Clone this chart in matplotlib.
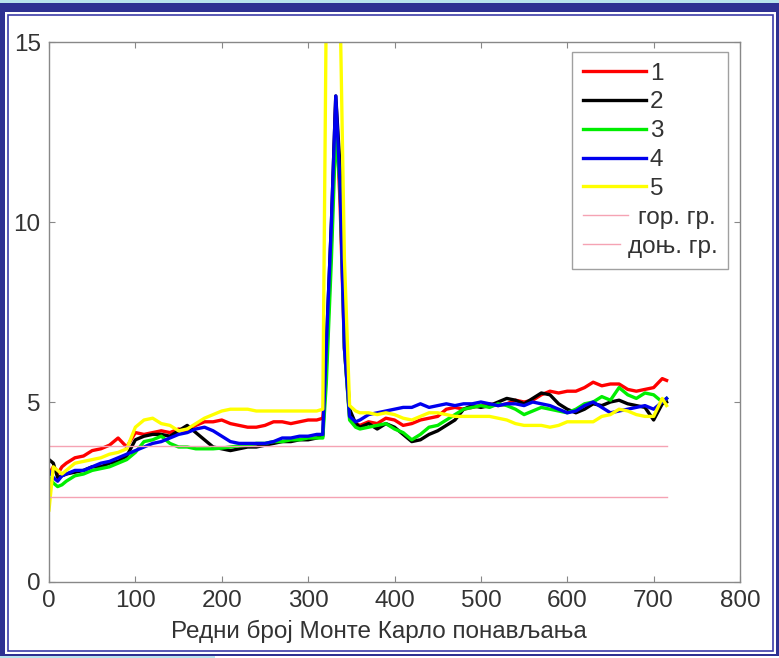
"""
Monte Carlo repetitions chart: five runs with upper/lower bounds.

Usage:
    python plot.py
"""

import matplotlib.pyplot as plt
from matplotlib.patches import Rectangle
from matplotlib.legend_handler import HandlerLine2D

# ---------------------------------------------------------------------------
# Data
# ---------------------------------------------------------------------------

x_vals = [0, 5, 10, 15, 20, 30, 40, 50, 60, 70, 80, 90, 100, 110, 120, 130,
          140, 150, 160, 170, 180, 190, 200, 210, 220, 230, 240, 250, 260,
          270, 280, 290, 300, 310, 317, 321, 327, 332, 337, 342, 348, 355,
          360, 370, 380, 390, 400, 410, 420, 430, 440, 450, 460, 470, 480,
          490, 500, 510, 520, 530, 540, 550, 560, 570, 580, 590, 600, 610,
          620, 630, 640, 650, 660, 670, 680, 690, 700, 710, 715]

run1 = [3.0, 3.2, 3.0, 3.2, 3.3, 3.45, 3.5, 3.65, 3.7, 3.8, 4.0, 3.75, 4.15,
        4.1, 4.15, 4.2, 4.15, 4.25, 4.2, 4.35, 4.45, 4.45, 4.5, 4.4, 4.35,
        4.3, 4.3, 4.35, 4.45, 4.45, 4.4, 4.45, 4.5, 4.5, 4.55, 6.0, 9.5,
        13.3, 10.5, 6.5, 4.6, 4.4, 4.35, 4.45, 4.4, 4.55, 4.5, 4.35, 4.4,
        4.5, 4.55, 4.6, 4.8, 4.85, 4.8, 4.85, 4.9, 4.95, 4.9, 4.95, 5.05,
        5.0, 5.05, 5.2, 5.3, 5.25, 5.3, 5.3, 5.4, 5.55, 5.45, 5.5, 5.5,
        5.35, 5.3, 5.35, 5.4, 5.65, 5.6]

run2 = [3.4, 3.3, 2.9, 2.95, 3.0, 3.05, 3.1, 3.2, 3.2, 3.3, 3.35, 3.5, 3.95,
        4.05, 4.1, 4.1, 4.05, 4.2, 4.35, 4.15, 3.95, 3.75, 3.7, 3.65, 3.7,
        3.75, 3.75, 3.8, 3.85, 3.9, 3.9, 3.95, 3.95, 4.0, 4.05, 6.5, 10.0,
        13.5, 11.5, 7.0, 4.8, 4.4, 4.3, 4.4, 4.25, 4.4, 4.3, 4.1, 3.9, 3.95,
        4.1, 4.2, 4.35, 4.5, 4.8, 4.9, 4.85, 4.9, 5.0, 5.1, 5.05, 4.95, 5.1,
        5.25, 5.2, 4.95, 4.8, 4.7, 4.8, 4.95, 4.9, 5.0, 5.05, 4.95, 4.9,
        4.85, 4.5, 4.95, 5.0]

run3 = [2.9, 2.75, 2.65, 2.7, 2.8, 2.95, 3.0, 3.1, 3.15, 3.2, 3.3, 3.4, 3.6,
        3.9, 3.95, 4.05, 3.85, 3.75, 3.75, 3.7, 3.7, 3.7, 3.72, 3.75, 3.78,
        3.8, 3.85, 3.85, 3.9, 3.9, 3.95, 3.95, 4.0, 4.0, 4.0, 5.5, 9.0,
        12.5, 11.0, 6.5, 4.5, 4.3, 4.25, 4.3, 4.35, 4.4, 4.25, 4.15, 3.95,
        4.1, 4.3, 4.35, 4.5, 4.65, 4.8, 4.85, 4.9, 4.85, 4.95, 4.9, 4.8,
        4.65, 4.75, 4.85, 4.8, 4.75, 4.7, 4.8, 4.95, 5.0, 5.15, 5.05, 5.4,
        5.2, 5.1, 5.25, 5.2, 5.0, 5.1]

run4 = [3.1, 2.9, 2.8, 2.95, 3.0, 3.1, 3.1, 3.2, 3.3, 3.35, 3.45, 3.55, 3.65,
        3.75, 3.85, 3.9, 4.0, 4.1, 4.15, 4.25, 4.3, 4.2, 4.05, 3.9, 3.85,
        3.85, 3.85, 3.85, 3.9, 4.0, 4.0, 4.05, 4.05, 4.1, 4.1, 6.5, 10.0,
        13.5, 11.0, 6.5, 4.6, 4.45, 4.5, 4.65, 4.7, 4.75, 4.8, 4.85, 4.85,
        4.95, 4.85, 4.9, 4.95, 4.9, 4.95, 4.95, 5.0, 4.95, 4.9, 4.95, 4.95,
        4.9, 5.0, 4.95, 4.9, 4.8, 4.7, 4.75, 4.9, 5.0, 4.85, 4.7, 4.75, 4.8,
        4.85, 4.9, 4.8, 5.0, 5.1]

run5 = [2.0, 3.2, 3.1, 3.0, 3.1, 3.3, 3.35, 3.4, 3.45, 3.55, 3.6, 3.7, 4.3,
        4.5, 4.55, 4.4, 4.35, 4.2, 4.25, 4.4, 4.55, 4.65, 4.75, 4.8, 4.8,
        4.8, 4.75, 4.75, 4.75, 4.75, 4.75, 4.75, 4.75, 4.75, 4.8, 16.0,
        16.0, 16.0, 16.0, 9.0, 4.9, 4.75, 4.7, 4.7, 4.65, 4.7, 4.65, 4.55,
        4.5, 4.6, 4.7, 4.7, 4.65, 4.6, 4.6, 4.6, 4.6, 4.6, 4.55, 4.5, 4.4,
        4.35, 4.35, 4.35, 4.3, 4.35, 4.45, 4.45, 4.45, 4.45, 4.6, 4.65, 4.8,
        4.75, 4.65, 4.6, 4.6, 5.1, 4.9]

runs = [run1, run2, run3, run4, run5]
run_labels = ["1", "2", "3", "4", "5"]
run_colors = ["#ff0000", "#000000", "#00ee00", "#0000ee", "#ffff00"]

bound_x = [0, 715]
upper_bound = 3.78
lower_bound = 2.36

x_ticks = [0, 100, 200, 300, 400, 500, 600, 700, 800]
y_ticks = [0, 5, 10, 15]

W, H = 779, 658
FS = 17.5


class ShortLine(HandlerLine2D):
    """Legend line drawn over only part of the handle box."""

    def __init__(self, frac, **kw):
        super().__init__(**kw)
        self.frac = frac

    def create_artists(self, legend, orig_handle, xdescent, ydescent,
                       width, height, fontsize, trans):
        return super().create_artists(legend, orig_handle, xdescent,
                                      ydescent, width * self.frac, height,
                                      fontsize, trans)


def px_rect(fig, x0, y0, x1, y1, **kw):
    """Rectangle given in image pixels (top-left origin), behind the axes."""
    r = Rectangle((x0 / W, 1 - y1 / H), (x1 - x0) / W, (y1 - y0) / H,
                  transform=fig.transFigure, zorder=-10, **kw)
    fig.patches.append(r)


def main():
    plt.rcParams["font.family"] = ["Liberation Sans", "DejaVu Sans"]

    fig = plt.figure(figsize=(W / 100, H / 100), dpi=100, facecolor="white")

    # page frame
    px_rect(fig, 0, 0, W, 2.5, facecolor="#b8e4ec", edgecolor="none")
    px_rect(fig, 0, 656, 215, H, facecolor="#b8e4ec", edgecolor="none")
    px_rect(fig, 0, 3, 779, 656, facecolor="#2e3192", edgecolor="none")
    px_rect(fig, 5, 12, 776, 654, facecolor="white", edgecolor="none")
    px_rect(fig, 8, 15, 773, 651, facecolor="none", edgecolor="#3c3ca8",
            linewidth=1.2)

    ax = fig.add_axes([49 / W, 1 - 582 / H, 691 / W, 540 / H])
    ax.set_facecolor("white")

    for y, lab, col in zip(runs, run_labels, run_colors):
        ax.plot(x_vals, y, color=col, linewidth=2.4, label=lab,
                solid_joinstyle="round")

    up_line, = ax.plot(bound_x, [upper_bound] * 2, color="#f5a3b3",
                       linewidth=1.0, label="гор. гр.")
    low_line, = ax.plot(bound_x, [lower_bound] * 2, color="#f5a3b3",
                        linewidth=1.0, label="доњ. гр.")

    ax.set_xlim(0, 800)
    ax.set_ylim(0, 15)
    ax.set_xticks(x_ticks)
    ax.set_yticks(y_ticks)
    ax.tick_params(direction="in", top=True, right=True, length=4,
                   color="#888888", labelsize=FS, labelcolor="#333333",
                   pad=6)
    for s in ax.spines.values():
        s.set_color("#888888")
        s.set_linewidth(1.0)

    ax.set_xlabel("Редни број Монте Карло понављања", fontsize=FS,
                  color="#333333")
    ax.xaxis.set_label_coords(0.478, -0.07)

    leg = ax.legend(loc="upper right", bbox_to_anchor=(0.983, 0.982),
                    fontsize=FS, frameon=True, fancybox=False,
                    edgecolor="#888888", handlelength=2.6, handletextpad=0.15,
                    labelspacing=0.28, borderpad=0.45, borderaxespad=0,
                    handler_map={up_line: ShortLine(0.72),
                                 low_line: ShortLine(0.58)})
    leg.get_frame().set_linewidth(1.0)
    for t in leg.get_texts():
        t.set_color("#333333")

    # pull the two bound labels left, over the unused part of the handle box
    rows = leg._legend_handle_box.get_children()[0].get_children()
    rows[5].sep -= 8.5
    rows[6].sep -= 16.0

    fig.savefig("out.png", dpi=100, facecolor="white")
    plt.close(fig)


if __name__ == "__main__":
    main()
